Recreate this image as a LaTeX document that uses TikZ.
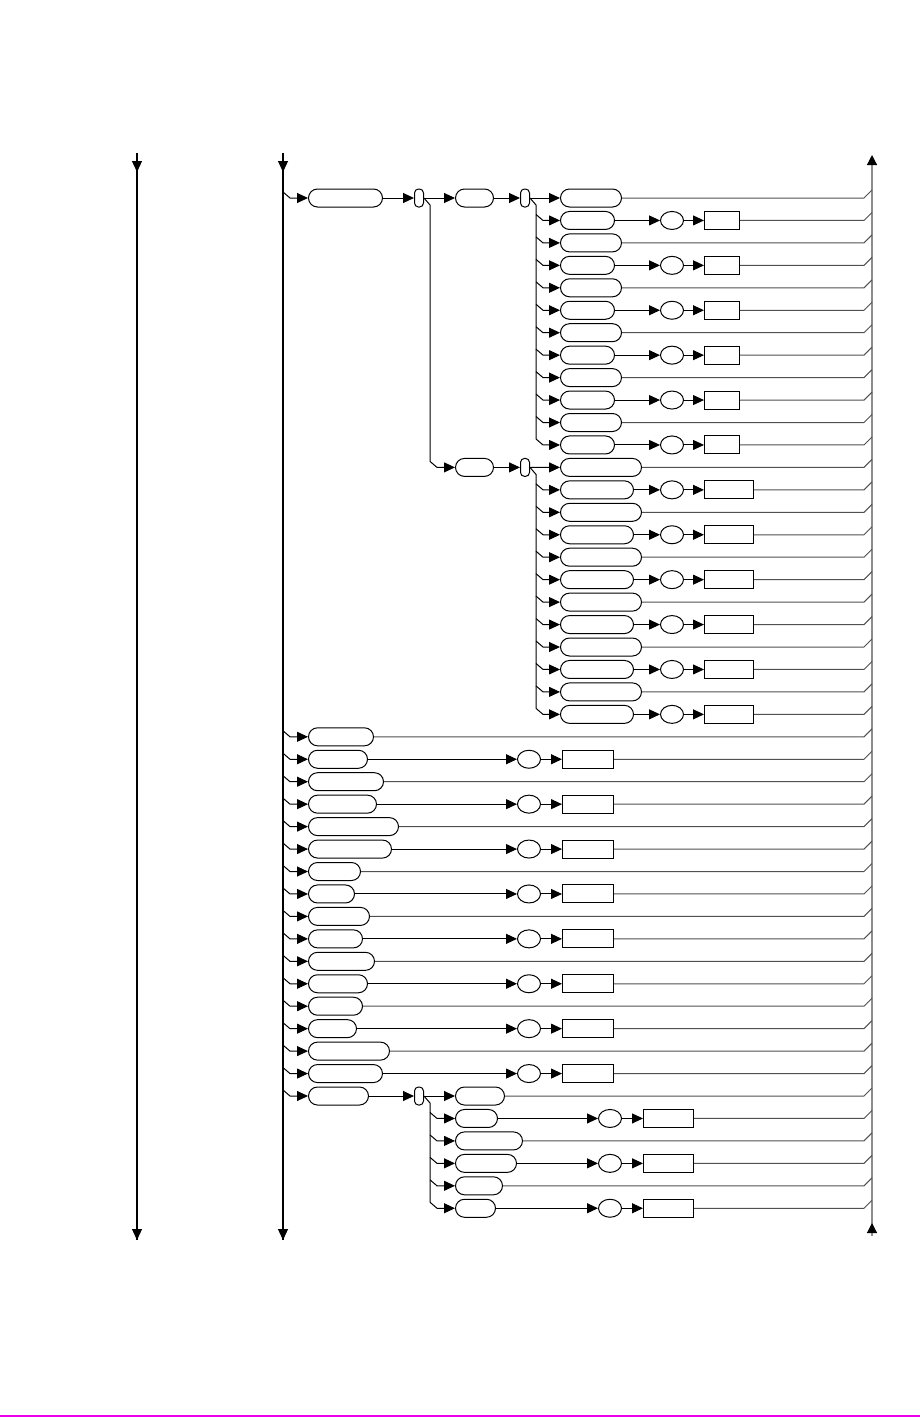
\documentclass[tikz,border=0pt]{standalone}
\usepackage{xcolor}
\usepackage{tikz}
\usetikzlibrary{arrows.meta, shapes.geometric, positioning}
\definecolor{railgray}{RGB}{140,140,140}
\definecolor{tailgray}{RGB}{80,80,80}
\definecolor{pagemagenta}{RGB}{236,0,236}

\begin{document}
\begin{tikzpicture}[
    x=1pt, y=-1pt,
    line width=1pt,
    >={Triangle[length=11pt,width=10pt]},
    pill/.style={draw, rounded corners=9pt, minimum height=18pt, inner sep=0pt, anchor=west},
    knot/.style={draw, rounded corners=4pt, minimum width=9pt, minimum height=18pt, inner sep=0pt, anchor=west},
    dot/.style={draw, ellipse, minimum width=23pt, minimum height=18pt, inner sep=0pt, anchor=west},
    box/.style={draw, rectangle, minimum height=18pt, inner sep=0pt, anchor=west},
    tail/.style={draw=tailgray},
    rail/.style={line width=1.2pt}
]
\useasboundingbox (0,0) rectangle (920,1417);
\fill[pagemagenta] (0,1414.5) rectangle (920,1417);

% rails
\coordinate (ltop) at (137,153);
\coordinate (lbot) at (137,1240);
\coordinate (mtop) at (283,153);
\coordinate (mbot) at (283,1240);
\coordinate (rtop) at (872,155);
\coordinate (rbot) at (872,1236);
\draw[rail] (ltop) -- (lbot);
\draw[rail,->] (ltop) -- ++(0,19);
\draw[rail,->] (137,1200) -- (lbot);
\draw[rail] (mtop) -- (mbot);
\draw[rail,->] (mtop) -- ++(0,19);
\draw[rail,->] (283,1200) -- (mbot);
\draw[rail, railgray, -{Triangle[length=10pt,width=10pt,color=black]}] (rbot) -- (rtop);
\draw[rail, railgray, -{Triangle[length=10pt,width=10pt,color=black]}] (rbot) -- ++(0,-13);

% first row and the two upper branches
\coordinate (mj0) at (283,192);
\node[pill, minimum width=74pt] (m0) at (308,198) {};
\node[knot] (k1) at (414,198) {};
\node[pill, minimum width=38pt] (ha) at (455,198) {};
\node[knot] (ka) at (520,198) {};
\node[pill, minimum width=38pt] (hb) at (455,467.4) {};
\node[knot] (kb) at (520,467.4) {};
\draw[->] (mj0) -- ++(7,6) -- (m0);
\draw[->] (m0) -- (k1);
\draw[->] (k1) -- (ha);
\draw[->] (ha) -- (ka);
\draw[->] (k1.east) -- (430,205) -- (430,461.4) -- (437,467.4) -- (hb);
\draw[->] (hb) -- (kb);

% group a
\foreach \i in {0,...,11} {
  \pgfmathsetmacro\yy{198+22.45*\i}
  \ifodd\i
    \node[pill, minimum width=54pt] (a\i) at (560,\yy) {};
    \node[dot] (ac\i) at (660,\yy) {};
    \node[box, minimum width=35pt] (ar\i) at (704,\yy) {};
    \draw[->] (a\i) -- (ac\i);
    \draw[->] (ac\i) -- (ar\i);
    \draw[tail] (ar\i) -- (864,\yy) -- ++(8,-8);
  \else
    \node[pill, minimum width=61pt] (a\i) at (560,\yy) {};
    \draw[tail] (a\i) -- (864,\yy) -- ++(8,-8);
  \fi
  \ifnum\i>0
    \coordinate (aj\i) at (536,\yy-6);
    \draw[->] (aj\i) -- ++(7,6) -- (a\i);
  \fi
}
\draw[->] (ka) -- (a0);
\draw (ka.east) -- (536,205) -- (aj11);

% group b
\foreach \i in {12,...,23} {
  \pgfmathsetmacro\yy{198+22.45*\i}
  \ifodd\i
    \node[pill, minimum width=73pt] (b\i) at (560,\yy) {};
    \node[dot] (bc\i) at (660,\yy) {};
    \node[box, minimum width=49pt] (br\i) at (704,\yy) {};
    \draw[->] (b\i) -- (bc\i);
    \draw[->] (bc\i) -- (br\i);
    \draw[tail] (br\i) -- (864,\yy) -- ++(8,-8);
  \else
    \node[pill, minimum width=81pt] (b\i) at (560,\yy) {};
    \draw[tail] (b\i) -- (864,\yy) -- ++(8,-8);
  \fi
  \ifnum\i>12
    \coordinate (bj\i) at (536,\yy-6);
    \draw[->] (bj\i) -- ++(7,6) -- (b\i);
  \fi
}
\draw[->] (kb) -- (b12);
\draw (kb.east) -- (536,474.4) -- (bj23);

% main rows
\foreach \i/\w in {24/65, 25/59, 26/75, 27/68, 28/90, 29/83, 30/52, 31/46,
                   32/61, 33/54, 34/66, 35/59, 36/54, 37/48, 38/81, 39/74} {
  \pgfmathsetmacro\yy{198+22.45*\i}
  \node[pill, minimum width=\w pt] (m\i) at (308,\yy) {};
  \coordinate (mj\i) at (283,\yy-6);
  \draw[->] (mj\i) -- ++(7,6) -- (m\i);
  \ifodd\i
    \node[dot] (mc\i) at (517,\yy) {};
    \node[box, minimum width=51pt] (mr\i) at (562,\yy) {};
    \draw[->] (m\i) -- (mc\i);
    \draw[->] (mc\i) -- (mr\i);
    \draw[tail] (mr\i) -- (864,\yy) -- ++(8,-8);
  \else
    \draw[tail] (m\i) -- (864,\yy) -- ++(8,-8);
  \fi
}

% last main row with its branch
\coordinate (mj40) at (283,1090);
\node[pill, minimum width=60pt] (m40) at (308,1096) {};
\node[knot] (kc) at (414,1096) {};
\node[pill, minimum width=49pt] (c40) at (455,1096) {};
\draw[->] (mj40) -- ++(7,6) -- (m40);
\draw[->] (m40) -- (kc);
\draw[->] (kc) -- (c40);
\draw[tail] (c40) -- (864,1096) -- ++(8,-8);
\foreach \i/\w in {41/42, 42/67, 43/61, 44/47, 45/40} {
  \pgfmathsetmacro\yy{198+22.45*\i}
  \node[pill, minimum width=\w pt] (c\i) at (455,\yy) {};
  \coordinate (cj\i) at (430,\yy-6);
  \draw[->] (cj\i) -- ++(7,6) -- (c\i);
  \ifodd\i
    \node[dot] (cc\i) at (598,\yy) {};
    \node[box, minimum width=50pt] (cr\i) at (643,\yy) {};
    \draw[->] (c\i) -- (cc\i);
    \draw[->] (cc\i) -- (cr\i);
    \draw[tail] (cr\i) -- (864,\yy) -- ++(8,-8);
  \else
    \draw[tail] (c\i) -- (864,\yy) -- ++(8,-8);
  \fi
}
\draw (kc.east) -- (430,1103) -- (cj45);

\end{tikzpicture}
\end{document}
